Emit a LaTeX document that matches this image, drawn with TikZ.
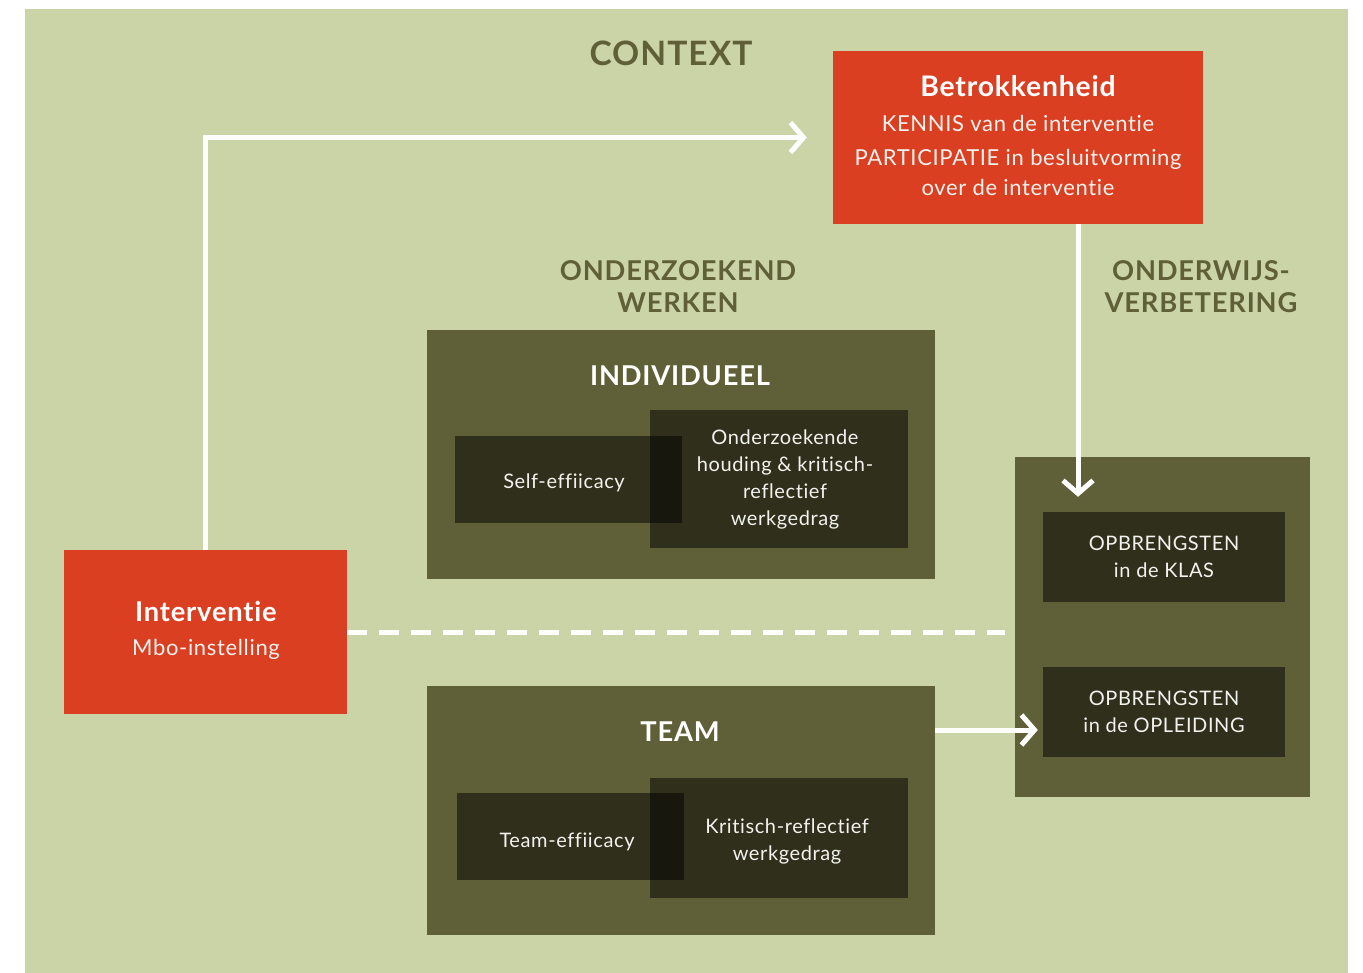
\documentclass[tikz,border=0pt]{standalone}
\usepackage{fontspec}
\setmainfont{Lato}[Ligatures=NoCommon, LetterSpace=3]
\usetikzlibrary{arrows.meta}
\definecolor{bgg}{HTML}{CBD4A6}
\definecolor{olivd}{HTML}{5F6038}
\definecolor{redb}{HTML}{DB3F22}
\definecolor{txtw}{HTML}{F2F2EE}
\begin{document}
\begin{tikzpicture}[x=1pt,y=-1pt,
  panel/.style={fill=olivd, inner sep=0, draw=none},
  dbox/.style={fill=black, fill opacity=0.5, inner sep=0, draw=none},
  dtext/.style={text=txtw, align=center, inner sep=0, font=\fontsize{20}{27}\selectfont},
  rbox/.style={fill=redb, inner sep=0, draw=none},
  head/.style={text=olivd, font=\bfseries\fontsize{27.3}{32}\selectfont, align=center, inner sep=0},
  wtitle/.style={text=white, font=\bfseries\fontsize{27.3}{32}\selectfont, align=center, inner sep=0},
  wtext/.style={text=txtw, font=\fontsize{22}{30}\selectfont, align=center, inner sep=0},
  wline/.style={draw=white, line width=5pt, line join=miter},
  warrow/.style={wline, -{Straight Barb[length=13pt,width=30pt]}},
  dline/.style={draw=white, line width=5pt, dash pattern=on 20pt off 12pt}
]
\useasboundingbox (0,0) rectangle (1363,973);
\node[fill=bgg, inner sep=0, minimum width=1323pt, minimum height=964pt, anchor=north west] (bg) at (25,9) {};

% headings
\node[head, font=\bfseries\fontsize{33.6}{38}\selectfont] (ctx) at (671,53) {CONTEXT};
\node[head] (ond) at (678,287) {ONDERZOEKEND\\WERKEN};
\node[head] (ovb) at (1201,287) {ONDERWIJS-\\VERBETERING};

% Betrokkenheid
\node[rbox, minimum width=370pt, minimum height=173pt] (betr) at (1018,137.5) {};
\node[wtitle, font=\bfseries\fontsize{28.3}{32}\selectfont] (betrT) at (1018,86) {Betrokkenheid};
\node[wtext] (betr1) at (1018,123) {KENNIS van de interventie};
\node[wtext] (betr2) at (1018,172) {PARTICIPATIE in besluitvorming\\over de interventie};

% Individueel
\node[panel, minimum width=508pt, minimum height=249pt] (ind) at (681,454.5) {};
\node[wtitle] (indT) at (680,376) {INDIVIDUEEL};
\node[dbox, minimum width=227pt, minimum height=87pt] (self) at (568.5,479.5) {};
\node[dbox, minimum width=258pt, minimum height=138pt] (onder) at (779,479) {};
\node[dtext] (selfT) at (564,482.5) {Self-effiicacy};
\node[dtext] (onderT) at (785,479) {Onderzoekende\\houding \& kritisch-\\reflectief\\werkgedrag};

% Team
\node[panel, minimum width=508pt, minimum height=249pt] (team) at (681,810.5) {};
\node[wtitle] (teamT) at (680,732) {TEAM};
\node[dbox, minimum width=227pt, minimum height=87pt] (teff) at (570.5,836.5) {};
\node[dbox, minimum width=258pt, minimum height=120pt] (krit) at (779,838) {};
\node[dtext] (teffT) at (567,841.5) {Team-effiicacy};
\node[dtext] (kritT) at (787,841) {Kritisch-reflectief\\werkgedrag};

% Interventie
\node[rbox, minimum width=283pt, minimum height=164pt] (interv) at (205.5,632) {};
\node[wtitle] (intT) at (206,611) {Interventie};
\node[wtext] (intS) at (206,649) {Mbo-instelling};

% Right panel
\node[panel, minimum width=295pt, minimum height=340pt] (rpan) at (1162.5,627) {};
\node[dbox, minimum width=242pt, minimum height=90pt] (klas) at (1164,557) {};
\node[dbox, minimum width=242pt, minimum height=90pt] (opl) at (1164,712) {};
\node[dtext] (klasT) at (1164,557) {OPBRENGSTEN\\in de KLAS};
\node[dtext] (oplT) at (1164,712) {OPBRENGSTEN\\in de OPLEIDING};

% connectors
\draw[warrow, shorten >=26pt] (interv.north) |- (betr.west);
\coordinate (b1) at (1078,224);
\draw[warrow, shorten >=15pt] (b1) -- (b1 |- klas.north);
\coordinate (t1) at (935,730);
\draw[warrow, shorten >=5pt] (t1) -- (t1 -| opl.west);
\draw[dline, shorten >=10pt] (interv.east) -- (interv.east -| rpan.west);
\end{tikzpicture}
\end{document}
